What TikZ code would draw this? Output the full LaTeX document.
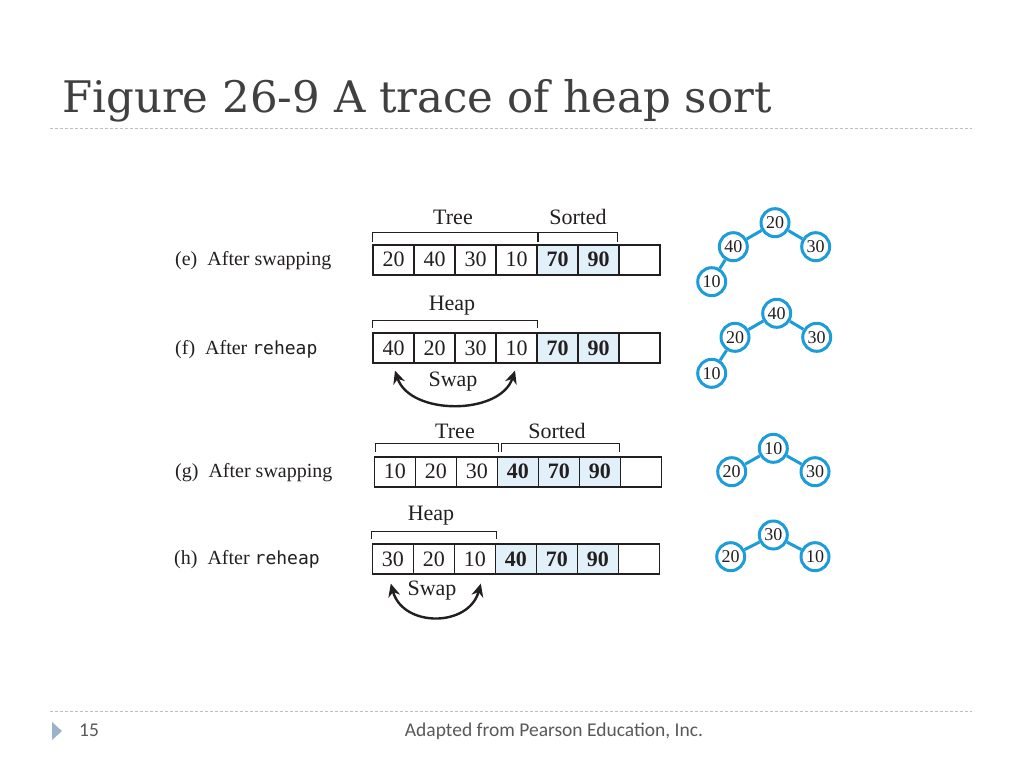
\documentclass[tikz,border=0pt]{standalone}
\usepackage{fontspec}
\setmainfont{Liberation Serif}
\newfontfamily\titlefont{DejaVu Serif}
\newfontfamily\footfont{Carlito}
\newfontfamily\codefont{DejaVu Sans Mono}
\usetikzlibrary{arrows.meta}
\newcommand{\sz}[1]{\fontsize{#1}{#1}\selectfont}
\newcommand{\rh}{{\codefont\sz{18}reheap}}

\definecolor{heapblue} {RGB}{28,156,216}
\definecolor{sortfill} {RGB}{226,240,250}
\definecolor{titlegray}{RGB}{64,64,64}
\definecolor{rulegray} {RGB}{190,190,190}
\definecolor{footgray} {RGB}{89,89,89}
\definecolor{markblue} {RGB}{155,178,204}
\definecolor{inkgray}  {RGB}{35,31,32}

\tikzset{
  arraycell/.style={draw=inkgray, line width=1.6pt, minimum width=41pt, minimum height=30pt,
                    inner sep=0pt, font=\sz{22}, text=inkgray},
  sortcell/.style={arraycell, fill=sortfill, font=\sz{22}\bfseries},
  bracket/.style={draw=inkgray, line width=0.9pt},
  brlabel/.style={font=\sz{22}, text=inkgray, inner sep=0pt},
  rowlabel/.style={font=\sz{20}, text=inkgray, anchor=west, inner sep=0pt},
  swaparrow/.style={{Stealth[length=13pt,width=12pt]}-{Stealth[length=13pt,width=12pt]},
                    line width=2.4pt, draw=inkgray},
  heapnode/.style={circle, draw=heapblue, line width=3pt, minimum size=28pt, inner sep=0pt,
                   font=\sz{18}, text=inkgray},
  heapedge/.style={draw=heapblue, line width=3pt},
  dashrule/.style={draw=rulegray, line width=1pt, dash pattern=on 3pt off 2pt},
}

\begin{document}
\begin{tikzpicture}[x=1pt,y=-1pt]
  \fill[white] (0,0) rectangle (1024,768);
  \useasboundingbox (0,0) rectangle (1024,768);

  % title and rules
  \node[anchor=base west, inner sep=0pt, font=\titlefont\sz{43.5}, text=titlegray] (title)
    at (62,112) {Figure 26-9 A trace of heap sort};
  \draw[dashrule] (50,128) -- (972,128);
  \draw[dashrule] (50,711) -- (972,711);

  % (e) after swapping
  \node[rowlabel] (lble) at (175,261) {(e)\ \ After swapping};
  \node[arraycell] (e1) at (393.5,259.7) {20};
  \node[arraycell] (e2) at (434.5,259.7) {40};
  \node[arraycell] (e3) at (475.5,259.7) {30};
  \node[arraycell] (e4) at (516.5,259.7) {10};
  \node[sortcell ] (e5) at (557.5,259.7) {70};
  \node[sortcell ] (e6) at (598.5,259.7) {90};
  \node[arraycell] (e7) at (639.5,259.7) {};
  \draw[bracket] ([yshift=2pt]e1.north west) -- ++(0,-9) -| ([yshift=2pt]e4.north east);
  \draw[bracket] ([xshift=2.5pt,yshift=2pt]e5.north west) -- ++(0,-9) -| ([xshift=-2pt,yshift=2pt]e6.north east);
  \node[brlabel] (etree) at (453,217) {Tree};
  \node[brlabel] (esort) at (578,217) {Sorted};

  % (f) after reheap
  \node[rowlabel] (lblf) at (175,350) {(f)\ \ After \rh};
  \node[arraycell] (f1) at (393.5,347.8) {40};
  \node[arraycell] (f2) at (434.5,347.8) {20};
  \node[arraycell] (f3) at (475.5,347.8) {30};
  \node[arraycell] (f4) at (516.5,347.8) {10};
  \node[sortcell ] (f5) at (557.5,347.8) {70};
  \node[sortcell ] (f6) at (598.5,347.8) {90};
  \node[arraycell] (f7) at (639.5,347.8) {};
  \draw[bracket] ([yshift=4pt]f1.north west) -- ++(0,-8) -| ([yshift=4pt]f4.north east);
  \node[brlabel] (fheap) at (452,306) {Heap};
  \draw[swaparrow] ([xshift=1.5pt,yshift=-7pt]f1.south) .. controls +(15,45) and +(-15,45) .. ([xshift=-1.5pt,yshift=-7pt]f4.south);
  \node[brlabel] (fswap) at (453,382) {Swap};

  % (g) after swapping
  \node[rowlabel] (lblg) at (175,473) {(g)\ \ After swapping};
  \node[arraycell] (g1) at (394.8,471.7) {10};
  \node[arraycell] (g2) at (435.8,471.7) {20};
  \node[arraycell] (g3) at (476.8,471.7) {30};
  \node[sortcell ] (g4) at (517.8,471.7) {40};
  \node[sortcell ] (g5) at (558.8,471.7) {70};
  \node[sortcell ] (g6) at (599.8,471.7) {90};
  \node[arraycell] (g7) at (640.8,471.7) {};
  \draw[bracket] ([xshift=1.5pt,yshift=4pt]g1.north west) -- ++(0,-8) -| ([yshift=4pt]g3.north east);
  \draw[bracket] ([xshift=4.5pt,yshift=4pt]g4.north west) -- ++(0,-8) -| ([xshift=-2pt,yshift=4pt]g6.north east);
  \node[brlabel] (gtree) at (455,431) {Tree};
  \node[brlabel] (gsort) at (557,431) {Sorted};

  % (h) after reheap
  \node[rowlabel] (lblh) at (174,560) {(h)\ \ After \rh};
  \node[arraycell] (h1) at (392.8,558.8) {30};
  \node[arraycell] (h2) at (433.8,558.8) {20};
  \node[arraycell] (h3) at (474.8,558.8) {10};
  \node[sortcell ] (h4) at (515.8,558.8) {40};
  \node[sortcell ] (h5) at (556.8,558.8) {70};
  \node[sortcell ] (h6) at (597.8,558.8) {90};
  \node[arraycell] (h7) at (638.8,558.8) {};
  \draw[bracket] ([yshift=4pt]h1.north west) -- ++(0,-8) -| ([yshift=4pt]h3.north east);
  \node[brlabel] (hheap) at (431,516) {Heap};
  \draw[swaparrow] ([xshift=-2pt,yshift=-9pt]h1.south) .. controls +(12,44) and +(-12,44) .. ([xshift=6pt,yshift=-9pt]h3.south);
  \node[brlabel] (hswap) at (432,591) {Swap};

  % trees
  \node[heapnode] (ta) at (775.0,222.7) {20};
  \node[heapnode] (tb) at (733.3,246.7) {40};
  \node[heapnode] (tc) at (815.7,246.7) {30};
  \node[heapnode] (td) at (711.7,281.7) {10};
  \draw[heapedge] (ta) -- (tb);
  \draw[heapedge] (ta) -- (tc);
  \draw[heapedge] (tb) -- (td);

  \node[heapnode] (ua) at (776.7,313.3) {40};
  \node[heapnode] (ub) at (735.0,337.3) {20};
  \node[heapnode] (uc) at (816.7,337.3) {30};
  \node[heapnode] (ud) at (711.7,373.3) {10};
  \draw[heapedge] (ua) -- (ub);
  \draw[heapedge] (ua) -- (uc);
  \draw[heapedge] (ub) -- (ud);

  \node[heapnode] (va) at (773.3,448.3) {10};
  \node[heapnode] (vb) at (731.7,471.7) {20};
  \node[heapnode] (vc) at (815.0,471.7) {30};
  \draw[heapedge] (va) -- (vb);
  \draw[heapedge] (va) -- (vc);

  \node[heapnode] (wa) at (773.3,535.0) {30};
  \node[heapnode] (wb) at (730.7,556.7) {20};
  \node[heapnode] (wc) at (815.0,556.7) {10};
  \draw[heapedge] (wa) -- (wb);
  \draw[heapedge] (wa) -- (wc);

  % footer
  \fill[markblue] (52,722) -- (62,731) -- (52,740) -- cycle;
  \node[anchor=base west, inner sep=0pt, font=\footfont\sz{19.5}, text=footgray] (pgnum) at (79,736) {15};
  \node[anchor=base, inner sep=0pt, font=\footfont\sz{19.5}, text=footgray] (credit) at (554,736) {Adapted from Pearson Education, Inc.};
\end{tikzpicture}
\end{document}
